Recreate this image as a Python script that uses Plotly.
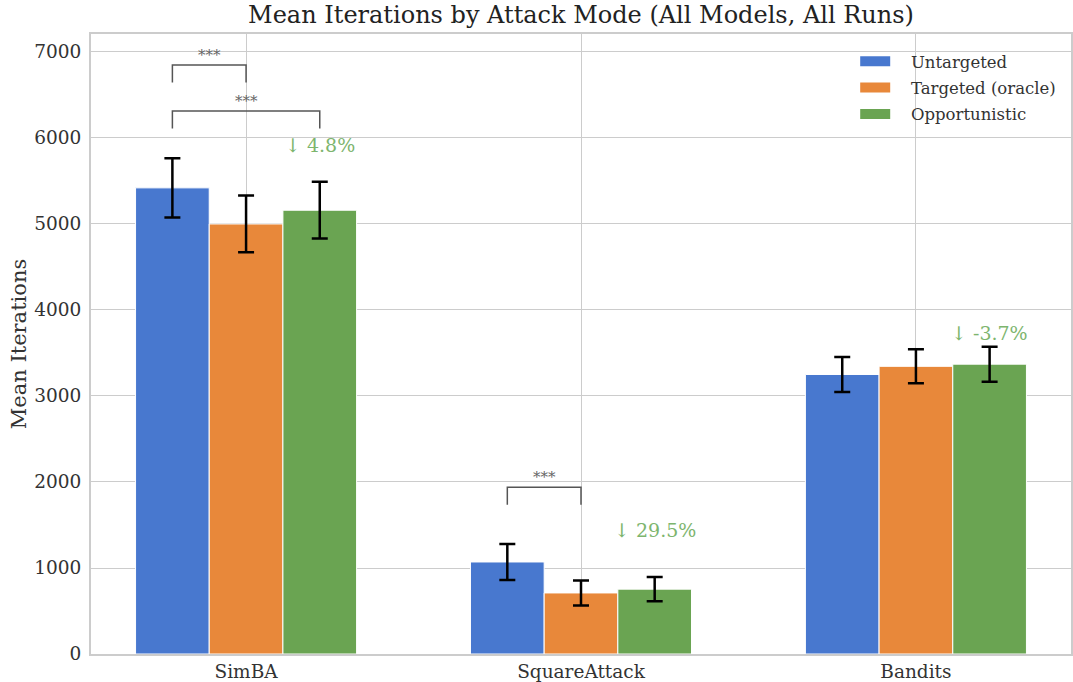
import plotly.graph_objects as go

# Attack methods and modes
attacks = ["SimBA", "SquareAttack", "Bandits"]
modes = ["Untargeted", "Targeted (oracle)", "Opportunistic"]

# Mean iterations per mode (one value per attack)
untargeted_mean = [5420, 1070, 3250]
targeted_mean = [5000, 710, 3345]
opportunistic_mean = [5160, 754, 3370]

# Error bar half-widths
untargeted_err = [345, 210, 203]
targeted_err = [330, 145, 198]
opportunistic_err = [330, 140, 203]

# Significance comparisons: (attack index, mode a, mode b, label)
sig_pairs = [
    (0, 0, 1, "***"),
    (0, 0, 2, "***"),
    (1, 0, 1, "***"),
]

colors = ["#4878CF", "#E8883A", "#6AA452"]
FONT = "DejaVu Serif"
BAR_W = 0.22
offsets = [-BAR_W, 0.0, BAR_W]

means = [untargeted_mean, targeted_mean, opportunistic_mean]
errs = [untargeted_err, targeted_err, opportunistic_err]

fig = go.Figure()
for k, name in enumerate(modes):
    fig.add_trace(go.Bar(
        x=list(range(len(attacks))),
        y=means[k],
        name=name,
        showlegend=False,
        marker=dict(color=colors[k], line=dict(color="white", width=1)),
        error_y=dict(type="data", array=errs[k], visible=True,
                     color="black", thickness=2.5, width=8),
    ))

# Legend keys drawn as wide colour patches, spaced from their labels
PAD = "\u00a0" * 3
for k, name in enumerate(modes):
    fig.add_trace(go.Scatter(
        x=[None], y=[None], mode="lines", name=PAD + name,
        legendgroup=f"g{k}",
        line=dict(color=colors[k], width=11),
    ))

shapes = []
annotations = []

# Significance brackets, stacked above the bars
bracket_levels = {0: [6850, 6315], 1: [1940]}
used = {}
for ai, a, b, lab in sig_pairs:
    lvl = used.get(ai, 0)
    used[ai] = lvl + 1
    yt = bracket_levels[ai][lvl]
    yb = yt - 205
    x1 = ai + offsets[a]
    x2 = ai + offsets[b]
    shapes.append(dict(
        type="path", xref="x", yref="y",
        path=f"M {x1},{yb} L {x1},{yt} L {x2},{yt} L {x2},{yb}",
        line=dict(color="#555555", width=1.5),
    ))
    annotations.append(dict(
        x=(x1 + x2) / 2, y=yt, xref="x", yref="y", text=lab,
        showarrow=False, yanchor="bottom", yshift=-1,
        font=dict(family=FONT, size=15, color="#666666"),
    ))

# Change of opportunistic vs. untargeted
for i in range(len(attacks)):
    u = untargeted_mean[i]
    o = opportunistic_mean[i]
    pct = (u - o) / u * 100
    top = max(means[k][i] + errs[k][i] for k in range(3))
    annotations.append(dict(
        x=i + offsets[2], y=top + 5, xref="x", yref="y",
        text=f"↓ {pct:.1f}%", showarrow=False, yanchor="bottom",
        font=dict(family=FONT, size=19, color="#7DB56E"),
    ))

grid = "#cccccc"
fig.update_layout(
    width=1073, height=682,
    margin=dict(l=91, r=2, t=34, b=28),
    plot_bgcolor="white", paper_bgcolor="white",
    barmode="group", bargap=0.34, bargroupgap=0.0,
    title=dict(text="Mean Iterations by Attack Mode (All Models, All Runs)",
               xref="paper", x=0.5, xanchor="center", y=0.978, yanchor="middle",
               font=dict(family=FONT, size=24, color="#222222")),
    font=dict(family=FONT, color="#333333"),
    legend=dict(x=0.99, y=0.984, xanchor="right", yanchor="top",
                bgcolor="rgba(0,0,0,0)",
                font=dict(family=FONT, size=16.5, color="#333333"),
                tracegroupgap=2, itemwidth=30),
    shapes=shapes,
    annotations=annotations,
)
fig.update_xaxes(
    range=[-0.463, 2.463], tickmode="array",
    tickvals=list(range(len(attacks))), ticktext=attacks,
    showgrid=True, gridcolor=grid, gridwidth=1.2,
    showline=True, linecolor=grid, linewidth=2, mirror=True,
    ticks="", tickfont=dict(family=FONT, size=18.5, color="#333333"),
    zeroline=False, automargin=False,
)
fig.update_yaxes(
    range=[0, 7209], tickmode="array",
    tickvals=[0, 1000, 2000, 3000, 4000, 5000, 6000, 7000],
    showgrid=True, gridcolor=grid, gridwidth=1.2,
    showline=True, linecolor=grid, linewidth=2, mirror=True,
    ticks="", ticklabelstandoff=4,
    tickfont=dict(family=FONT, size=18.5, color="#333333"),
    zeroline=False, automargin=False,
    title=dict(text="Mean Iterations", standoff=2,
               font=dict(family=FONT, size=21, color="#333333")),
)

fig.write_html("out.html")
